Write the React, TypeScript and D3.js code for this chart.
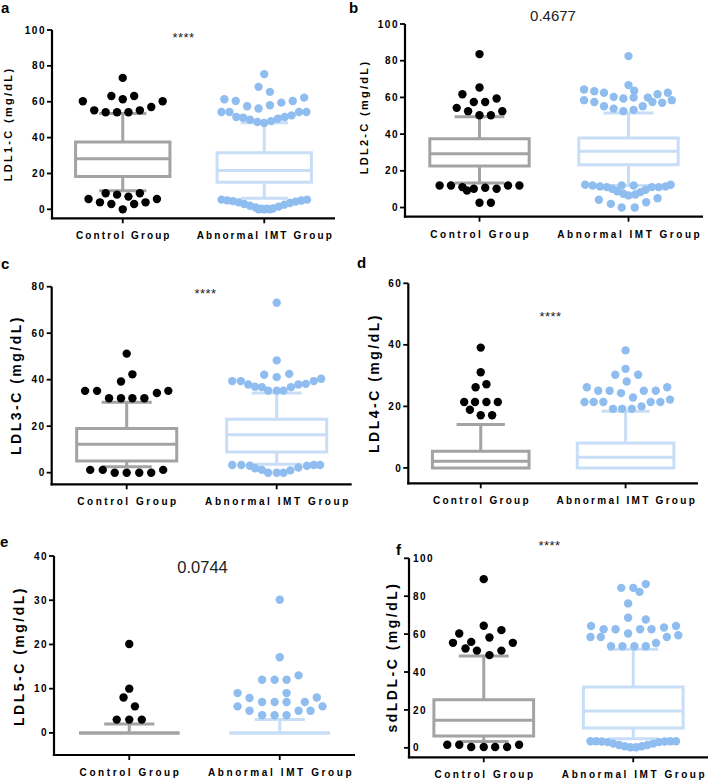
import React from 'react';
import * as d3 from 'd3';

// ---------- data ----------
const groups = ['Control Group', 'Abnormal IMT Group'];
const panelLetters = ['a', 'b', 'c', 'd', 'e', 'f'];
const yTitles = ['LDL1-C (mg/dL)', 'LDL2-C (mg/dL)', 'LDL3-C (mg/dL)', 'LDL4-C (mg/dL)', 'LDL5-C (mg/dL)', 'sdLDL-C (mg/dL)'];
const yMaxes = [100, 100, 80, 60, 40, 100];
const yTickSteps = [20, 20, 20, 20, 10, 20];
const statTexts = ['****', '0.4677', '****', '****', '0.0744', '****'];

// [whisker low, Q1, median, Q3, whisker high]
const controlBoxStats = [
  [10.4, 18.3, 28.2, 37.5, 53.4],
  [13.3, 22.6, 29.3, 37.5, 49.4],
  [2.6, 5, 12.2, 19, 30.3],
  [0, 0, 2.2, 5.4, 14.1],
  [0, 0, 0, 0, 2],
  [3.4, 6.2, 14.5, 25.4, 48.5],
];
const abnormalBoxStats = [
  [6.2, 15.1, 21.6, 31.5, 48.3],
  [12, 23.3, 30.6, 37.9, 51.5],
  [3.6, 8.9, 16.3, 23, 34.3],
  [0, 0, 3.5, 8.1, 18.4],
  [0, 0, 0, 0, 3],
  [4.8, 10.4, 19.4, 32.1, 52],
];

// outliers: [value, horizontal slot]
const controlOutliersA = [[73.3, 0], [60.3, -7], [63.2, -2], [61.4, 0], [63.2, 2], [60.3, 7], [55.2, -5], [54.1, -3], [54.1, -1], [54.1, 1], [55.2, 3], [57.1, 5], [9, -3], [8.2, -1], [7.1, 1], [9, 3], [5.8, -6], [3.9, -4], [3, -2], [3, 2], [3.9, 4], [5.8, 6], [0, 0]];
const abnormalOutliersA = [[75.4, 0], [68.3, -1], [65.5, 1], [61.4, -7], [60.4, -5], [57.5, -3], [56.2, -1], [58, 1], [59.5, 3], [60.4, 5], [62.3, 7],
  [54.3, -7.5], [54.3, -6.1], [51.5, -4.9], [51.1, -3.7], [50, -2.5], [48.7, -1.2], [48.1, 0], [49.2, 1.2], [50.6, 2.4], [51.5, 3.6], [52.4, 4.8], [54.3, 6.1], [54.3, 7.4],
  [5.4, -7.5], [5, -6.5], [4.6, -5.5], [3.9, -4.5], [3, -3.5], [2, -2.5], [1, -1.5], [0.3, -0.5], [0.3, 0.5], [0.5, 1.5], [1.5, 2.5], [2.6, 3.5], [3.5, 4.5], [4.3, 5.5], [4.9, 6.5], [5.4, 7.5], [0, -1], [0, 0], [0, 1]];
const controlOutliersB = [[83.6, 0], [65.4, 0], [61.7, -3], [57.5, -1], [57.5, 1], [59.4, 3], [54.3, -4], [52.5, -2], [52.5, 4], [50.3, 0], [50.3, 2],
  [12, -7], [12, -5], [11.1, -3], [9.3, -2.2], [10.2, -1], [10.8, 1], [10.2, 3], [12, 5], [12, 7], [2.6, 0], [2.6, 2]];
const abnormalOutliersB = [[82.5, 0], [66.7, 0], [63.6, 1], [64.3, -7.8], [63.4, -6], [62.5, -4.3], [60.3, -2.6], [59.4, -0.9], [59.9, 0.9], [59.9, 3.4], [61.7, 5.1], [62.5, 6.9],
  [58.5, -7.8], [57.5, -6], [55.2, -4.3], [53.9, -2.6], [52.5, -0.9], [53.2, 0.9], [55.2, 2.5], [57.5, 4.2], [57.1, 5.9], [58.5, 7.6],
  [12.4, -7.6], [12, -6.3], [11.5, -5], [11.1, -3.8], [10.2, -2.9], [8.9, -2], [12, -1.2], [7.5, -0.9], [6.6, 0], [12, 0.9], [7.1, 1.2], [8.4, 2.1], [9.7, 3], [11.1, 4.1], [11.1, 5.3], [11.5, 6.5], [12.4, 7.4],
  [4.2, -5.2], [2, -3.1], [0, -1.2], [0, 1.1], [2.9, 3.1], [5.1, 5.1]];
const controlOutliersC = [[51.2, 0], [42.3, 1], [39.2, -1], [35.2, -7.3], [35.2, -5.2], [32, -3.1], [32, -1], [32, 1], [32, 3.1], [34.3, 5.3], [35.2, 7.3],
  [1.2, -6.4], [1.2, -4.2], [0, -2.1], [0, 0], [0, 2.2], [0, 4.3], [1.2, 6.4]];
const abnormalOutliersC = [[73.1, 0], [48.3, 0], [42.1, -2.2], [41.1, 0], [42.5, 2.2], [39.4, -7.8], [39.4, -6.3], [37.9, -5], [37, -3.8], [36.8, -2.6], [35.3, -1.5], [35.3, 0], [35.3, 1.2], [36.8, 2.5], [37.9, 3.8], [38.2, 5.1], [39.4, 6.5], [40.4, 7.8],
  [3.3, -7.8], [3.3, -6.2], [3, -4.7], [1.9, -3.8], [1.2, -2.6], [0, -1.5], [0, 0], [0, 1.2], [1, 2.4], [2.2, 3.8], [3, 5.3], [3.3, 6.5], [3.3, 7.6]];
const controlOutliersD = [[39.1, 0], [31.1, 0], [26.2, -0.9], [27.2, 1], [21.4, -2.9], [21.4, -1], [21.4, 1], [21.4, 3], [18.9, -1.9], [17.1, 0], [17.1, 2]];
const abnormalOutliersD = [[38.2, 0], [32.2, 0], [30.3, -1.8], [30.3, 2.2], [28.1, 0.2], [26.2, -6.8], [25.1, -4.8], [25.1, -2.8], [24.3, -0.8], [22.9, 1.3], [25.1, 3.2], [25.1, 5.3], [26.2, 7.3],
  [21.4, -7.2], [21.4, -5.6], [21.4, -3.9], [19.2, -2.2], [19.2, -0.6], [19.2, 1.1], [20, 2.8], [21.4, 4.4], [21.4, 6.1], [22.2, 7.8]];
const controlOutliersE = [[20.1, 0], [10, 0], [8, -1], [6, 1], [3, -2.2], [3, 0], [3, 2.2]];
const abnormalOutliersE = [[30.1, 0], [17.1, 0], [12, -3.1], [12, -0.9], [12, 1.2], [13, 3.3], [9, 1.2], [9, -7.4], [7.9, -5.3], [7, -3.1], [7, -0.9], [7, 1.2], [7, 4.4], [8, 6.5],
  [6, -7.4], [5, -5.3], [4, -3.1], [4, -0.9], [4, 1.2], [5, 3.3], [5, 5.4], [6, 7.5]];
const controlOutliersF = [[89, 0], [64.4, 0], [60.3, -4.3], [55.9, -2.2], [58.2, 1], [62.1, 3.1], [55.4, -5.4], [52.4, -3.2], [51.3, -1.2], [48.9, 1], [51.3, 3.1], [55.4, 5.1],
  [1.6, -6.4], [1.6, -4.3], [0.4, -2.2], [0.4, 0], [0.4, 2], [0.4, 4.1], [1.6, 6.2]];
const abnormalOutliersF = [[84.4, -2.1], [84.4, 0], [86.4, 2.2], [82.3, 1.1], [76.2, -0.9], [68.6, -0.9], [67.7, 2.2], [64.3, -7.4], [62.6, -5.2], [62.6, -3.1], [60.3, -0.9], [62.6, 1.2], [62.6, 3.2], [63.5, 5.4], [64.3, 7.5],
  [58.5, -7.5], [58.5, -5.7], [55.3, 4], [58.5, 5.9], [59.4, 7.9], [53.6, -3.9], [53.6, -1.9], [53.6, 0.2], [53.6, 2.2],
  [3.5, -7.5], [3.5, -6.5], [3.3, -5.5], [3, -4.5], [2.2, -3.5], [1.5, -2.5], [0.8, -1.5], [0.3, -0.5], [0.3, 0.5], [0.8, 1.5], [1.5, 2.5], [2.2, 3.5], [3, 4.5], [3.3, 5.5], [3.5, 6.5], [3.5, 7.5]];

const controlOutliers = [controlOutliersA, controlOutliersB, controlOutliersC, controlOutliersD, controlOutliersE, controlOutliersF];
const abnormalOutliers = [abnormalOutliersA, abnormalOutliersB, abnormalOutliersC, abnormalOutliersD, abnormalOutliersE, abnormalOutliersF];

// ---------- layout ----------
const frames = [
  { x0: 52, x1: 335, yTop: 30, yBot: 218.3, letter: [1, 12.5], title: [12, 124, 11, 2.3], stat: [183.5, 41.6, 13], tickRight: false },
  { x0: 405, x1: 703, yTop: 24, yBot: 216.7, letter: [349, 12.5], title: [368, 117, 11, 2.3], stat: [553, 20.7, 15], tickRight: false },
  { x0: 51.7, x1: 351.7, yTop: 286.7, yBot: 484.3, letter: [1, 268.5], title: [21, 385, 14, 2.5], stat: [205.5, 297.6, 13], tickRight: false },
  { x0: 408.3, x1: 698, yTop: 283.3, yBot: 483.3, letter: [357, 268], title: [379, 383, 14, 2.5], stat: [550.5, 321, 13], tickRight: false },
  { x0: 54, x1: 355, yTop: 556, yBot: 755, letter: [0, 547], title: [24, 656, 14, 2.5], stat: [202.5, 573.3, 16.5], tickRight: false },
  { x0: 409, x1: 708, yTop: 558.3, yBot: 757.3, letter: [396, 555], title: [397, 657, 14, 2.5], stat: [549.5, 550, 13], tickRight: true },
];

const FONT = '"Liberation Sans", Arial, Helvetica, sans-serif';
const GROUP_STROKE = ['#a3a3a3', '#c8def7'];
const GROUP_DOT = ['#000000', '#8fbdf0'];
const SLOT = 5.7;
const R = 4.2;

function Panel({ i }: { i: number }) {
  const f = frames[i];
  const y = d3.scaleLinear().domain([-5, yMaxes[i]]).range([f.yBot, f.yTop]);
  const x = d3.scaleBand<string>().domain(groups).range([f.x0, f.x1]).paddingInner(0).paddingOuter(0);
  const bw = x.bandwidth();
  const boxW = bw * 0.667;
  const capW = boxW * 0.5;
  const ticks = d3.range(0, yMaxes[i] + 0.001, yTickSteps[i]);
  const stats = [controlBoxStats[i], abnormalBoxStats[i]];
  const outs = [controlOutliers[i], abnormalOutliers[i]];
  const isNum = statTexts[i] !== '****';

  return (
    <g>
      <text x={f.letter[0]} y={f.letter[1]} fontFamily={FONT} fontWeight="bold" fontSize={15} fill="#000">{panelLetters[i]}</text>
      {/* boxes */}
      {groups.map((g, gi) => {
        const cx = (x(g) as number) + bw / 2;
        const [wl, q1, med, q3, wh] = stats[gi];
        const col = GROUP_STROKE[gi];
        const path = `M${cx - boxW / 2},${y(q3)}H${cx + boxW / 2}V${y(q1)}H${cx - boxW / 2}Z`;
        return (
          <g key={g} stroke={col} strokeWidth={3} fill="none">
            {wh > q3 && <line x1={cx} x2={cx} y1={y(q3)} y2={y(wh)} />}
            {wh > q3 && <line x1={cx - capW / 2} x2={cx + capW / 2} y1={y(wh)} y2={y(wh)} />}
            {wl < q1 && <line x1={cx} x2={cx} y1={y(q1)} y2={y(wl)} />}
            {wl < q1 && <line x1={cx - capW / 2} x2={cx + capW / 2} y1={y(wl)} y2={y(wl)} />}
            <path d={path} strokeLinejoin="miter" />
            <line x1={cx - boxW / 2} x2={cx + boxW / 2} y1={y(med)} y2={y(med)} />
          </g>
        );
      })}
      {/* outliers */}
      {groups.map((g, gi) => {
        const cx = (x(g) as number) + bw / 2;
        return (
          <g key={g + 'o'} fill={GROUP_DOT[gi]}>
            {outs[gi].map((p, pi) => (
              <circle key={pi} cx={cx + p[1] * SLOT} cy={y(p[0])} r={R} />
            ))}
          </g>
        );
      })}
      {/* axes */}
      <line x1={f.x0} x2={f.x0} y1={f.yTop} y2={f.yBot + 1} stroke="#000" strokeWidth={2.2} />
      <line x1={f.x0 - 1.1} x2={f.x1} y1={f.yBot} y2={f.yBot} stroke="#000" strokeWidth={2.2} />
      {ticks.map((t) => (
        <g key={t}>
          <line x1={f.x0 - 5} x2={f.x0} y1={y(t)} y2={y(t)} stroke="#000" strokeWidth={1.8} />
          <text
            x={f.tickRight ? f.x0 + 4 : f.x0 - 6}
            y={y(t)}
            dy="0.36em"
            textAnchor={f.tickRight ? 'start' : 'end'}
            fontFamily={FONT}
            fontWeight="bold"
            fontSize={10}
            letterSpacing={1.5}
            fill="#000"
          >
            {t}
          </text>
        </g>
      ))}
      {groups.map((g, gi) => {
        const cx = (x(g) as number) + bw / 2;
        return (
          <g key={g + 'x'}>
            <line x1={cx} x2={cx} y1={f.yBot} y2={f.yBot + 5} stroke="#000" strokeWidth={1.8} />
            <text
              x={cx}
              y={f.yBot + 21}
              textAnchor="middle"
              fontFamily={FONT}
              fontWeight="bold"
              fontSize={10}
              textLength={gi === 0 ? bw * 0.66 : bw * 0.955}
              lengthAdjust="spacing"
              fill="#000"
            >
              {g}
            </text>
          </g>
        );
      })}
      {/* y title */}
      <text
        transform={`translate(${f.title[0]},${f.title[1]}) rotate(-90)`}
        textAnchor="middle"
        fontFamily={FONT}
        fontWeight="bold"
        fontSize={f.title[2]}
        letterSpacing={f.title[3]}
        fill="#000"
      >
        {yTitles[i]}
      </text>
      {/* stat */}
      <text
        x={f.stat[0]}
        y={f.stat[1]}
        textAnchor="middle"
        fontFamily={FONT}
        fontSize={f.stat[2]}
        letterSpacing={isNum ? 0 : 0.5}
        fill="#222"
      >
        {statTexts[i]}
      </text>
    </g>
  );
}

export default function App() {
  return (
    <svg
      width={710}
      height={780}
      viewBox="0 0 710 780"
      style={{ position: 'absolute', left: 0, top: 0, background: '#fff' }}
    >
      <rect x={0} y={0} width={710} height={780} fill="#fff" />
      {panelLetters.map((_, i) => (
        <Panel key={i} i={i} />
      ))}
    </svg>
  );
}
